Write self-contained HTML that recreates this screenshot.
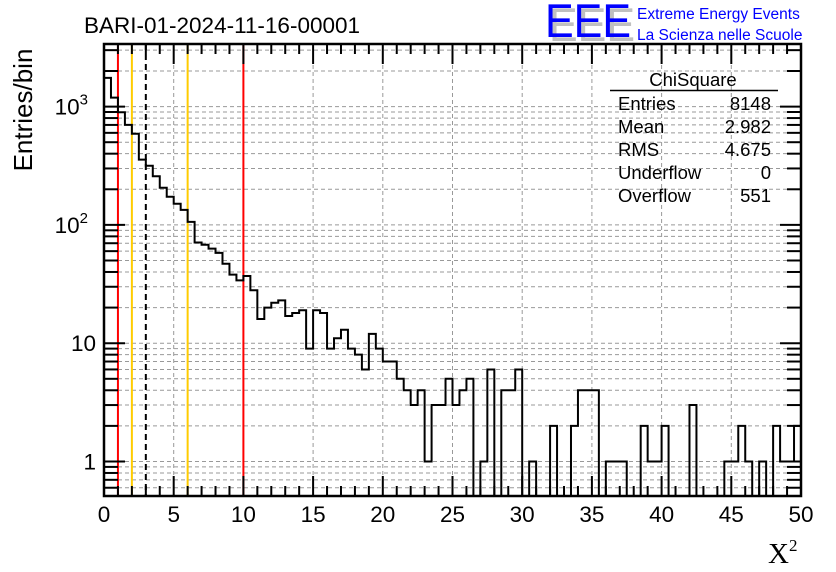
<!DOCTYPE html>
<html><head><meta charset="utf-8"><style>
body{margin:0;background:#fff;}
svg{display:block;font-family:"Liberation Sans",sans-serif;}
</style></head><body>
<svg id="c" width="836" height="572" xmlns="http://www.w3.org/2000/svg">
<rect width="836" height="572" fill="#fff"/>
<g id="grid"></g>
<g id="vlines"></g>
<path id="hist" fill="none" stroke="#000" stroke-width="2"/>
<g id="axes"></g>
<text x="84" y="33" font-size="22.5">BARI-01-2024-11-16-00001</text>
<g>
<text x="549" y="41" font-size="47" fill="#c0c0c0" textLength="86" lengthAdjust="spacingAndGlyphs">EEE</text>
<text x="545" y="37" font-size="47" fill="#0000ff" textLength="86" lengthAdjust="spacingAndGlyphs">EEE</text>
<text x="637" y="19" font-size="15.5" fill="#0000ff">Extreme Energy Events</text>
<text x="637" y="40" font-size="15.5" fill="#0000ff">La Scienza nelle Scuole</text>
</g>
<g font-size="18.5">
<text x="693" y="86" text-anchor="middle">ChiSquare</text>
<line x1="610" y1="90.5" x2="778" y2="90.5" stroke="#000" stroke-width="1.5"/>
<text x="618" y="110">Entries</text><text x="771" y="110" text-anchor="end">8148</text>
<text x="618" y="133">Mean</text><text x="771" y="133" text-anchor="end">2.982</text>
<text x="618" y="156">RMS</text><text x="771" y="156" text-anchor="end">4.675</text>
<text x="618" y="179">Underflow</text><text x="771" y="179" text-anchor="end">0</text>
<text x="618" y="202">Overflow</text><text x="771" y="202" text-anchor="end">551</text>
</g>
<text transform="translate(32,110) rotate(-90)" font-size="26" text-anchor="middle">Entries/bin</text>
<text x="768" y="563" font-family="Liberation Serif,serif" font-size="29">X<tspan font-size="17" dy="-12">2</tspan></text>
</svg>
<script>
const binCounts=[1750,1190,895,700,590,356,316,258,206,173,151,134,106,71,68,63,58,47,38,34,37,28,16,20,22,23,17,18,19,9,19,18,9,11,13,9,8,6,12,9,7,7,5,4,3,4,1,3,3,5,3,4,5,0,1,6,0,4,4,6,0,1,0,0,2,0,0,2,4,4,4,0,1,1,1,0,0,2,1,1,2,0,0,0,3,0,0,0,0,1,1,2,1,0,1,0,2,1,1,2];
const xTicks=[0,5,10,15,20,25,30,35,40,45,50];
const yTickLabels=[["1",0],["10",1],["10",2],["10",3]];
const cutLines=[[1,"#ff0000",false],[2,"#ffcc00",false],[3,"#000",true],[6,"#ffcc00",false],[10,"#ff0000",false]];
const X0=104,X1=801,Y0=44,Y1=496,binW=0.5;
const ymin=Math.pow(10,(461.5-496)/118.3), ymax=Math.pow(10,(461.5-44)/118.3);
function sx(v){return X0+(v-0)/(50-0)*(X1-X0);}
function sy(v){if(v<=ymin)return Y1;return Y1-(Math.log10(v)-Math.log10(ymin))/(Math.log10(ymax)-Math.log10(ymin))*(Y1-Y0);}
const NS="http://www.w3.org/2000/svg";
function mk(t,a,p){const e=document.createElementNS(NS,t);for(const k in a)e.setAttribute(k,a[k]);p.appendChild(e);return e;}
const grid=document.getElementById('grid'),axes=document.getElementById('axes'),vl=document.getElementById('vlines');
xTicks.forEach(t=>{if(t>0&&t<50){const l=mk('line',{x1:sx(t),x2:sx(t),y1:Y0,y2:Y1,stroke:'#999','stroke-dasharray':'4,3'},grid);}});
for(let d=-1;d<=3;d++)for(let m=1;m<=9;m++){const v=m*Math.pow(10,d);if(v<ymin||v>ymax)continue;const y=sy(v);
 const l=mk('line',{x1:X0,x2:X1,y1:y,y2:y,stroke:'#999','stroke-dasharray':'4,3'},grid);
 const big=m===1;const t1=mk('line',{x1:X0,x2:X0+(big?21:14),y1:y,y2:y,stroke:'#000','stroke-width':2},axes);
 const t2=mk('line',{x1:X1,x2:X1-(big?21:14),y1:y,y2:y,stroke:'#000','stroke-width':2},axes);}
cutLines.forEach(c=>{const l=mk('line',{x1:sx(c[0]),x2:sx(c[0]),y1:Y0,y2:Y1,stroke:c[1],'stroke-width':2},vl);if(c[2])l.setAttribute('stroke-dasharray','6,4');});
let d='';for(let i=0;i<binCounts.length;i++){const xa=sx(i*binW),xb=sx((i+1)*binW),y=sy(binCounts[i]);d+=(i===0?'M'+xa+','+y:'L'+xa+','+y)+'L'+xb+','+y;}
document.getElementById('hist').setAttribute('d',d);
const f=mk('rect',{x:X0,y:Y0,width:X1-X0,height:Y1-Y0,fill:'none',stroke:'#000','stroke-width':2.5},axes);
for(let v=0;v<=50;v+=1){const big=v%5===0;const x=sx(v);
 const a=mk('line',{x1:x,x2:x,y1:Y1,y2:Y1-(big?20:10),stroke:'#000','stroke-width':2},axes);
 const b=mk('line',{x1:x,x2:x,y1:Y0,y2:Y0+(big?20:10),stroke:'#000','stroke-width':2},axes);}
xTicks.forEach(t=>{const e=mk('text',{x:sx(t),y:522,'font-size':22.5,'text-anchor':'middle'},axes);e.textContent=t;});
yTickLabels.forEach(p=>{const y=sy(Math.pow(10,p[1]));const e=mk('text',{x:p[1]>1?88:96,y:y+8,'font-size':22.5,'text-anchor':'end'},axes);e.textContent=p[0];
 if(p[1]>1){const s=mk('tspan',{dy:-10,'font-size':15},e);s.textContent=p[1];}
 });
</script>
</body></html>
